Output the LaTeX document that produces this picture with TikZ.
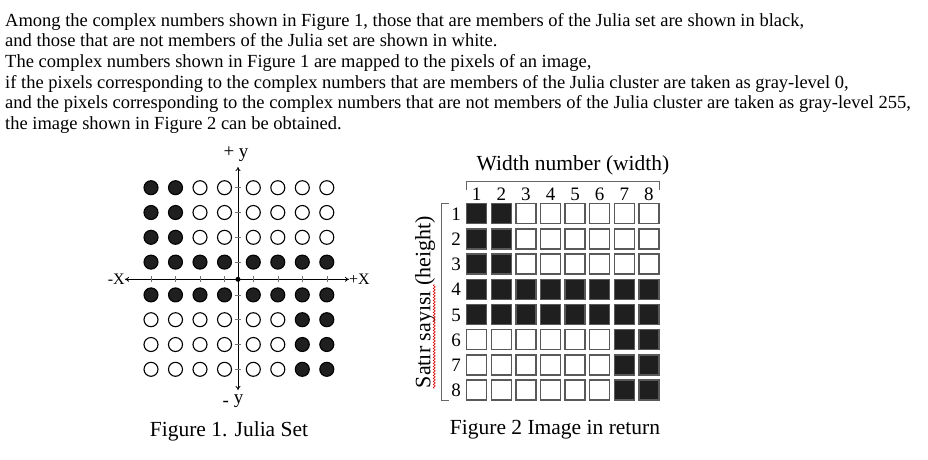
\documentclass[tikz,border=0pt]{standalone}
\usepackage{fontspec}
\setmainfont{Liberation Serif}
\usetikzlibrary{arrows.meta,positioning,calc,decorations.pathmorphing}

\begin{document}
\begin{tikzpicture}[
  x=1pt, y=-1pt,
  >={To[length=4pt,width=5pt]},
  every node/.style={inner sep=0pt, font=\fontsize{19}{22}\selectfont},
  dot/.style={circle, draw=black, line width=1.1pt, minimum size=14pt},
  pix/.style={draw=black!65, line width=1.3pt, minimum size=20pt},
  caption/.style={anchor=base, font=\fontsize{21.5}{24}\selectfont},
  axis/.style={line width=0.8pt, <->},
  tick/.style={black!55, line width=0.6pt},
  bracket/.style={black!60, line width=1pt},
  squiggle/.style={red!85!black, line width=0.6pt, decorate,
              decoration={snake, amplitude=1pt, segment length=3pt}},
]
\useasboundingbox (0,0) rectangle (928,459);

% Introductory text
\node[anchor=north west, align=left, font=\fontsize{18.5}{20.6}\selectfont] (intro) at (5,13)
  {Among the complex numbers shown in Figure 1, those that are members of the Julia set are shown in black,\\
   and those that are not members of the Julia set are shown in white.\\
   The complex numbers shown in Figure 1 are mapped to the pixels of an image,\\
   if the pixels corresponding to the complex numbers that are members of the Julia cluster are taken as gray-level 0,\\
   and the pixels corresponding to the complex numbers that are not members of the Julia cluster are taken as gray-level 255,\\
   the image shown in Figure 2 can be obtained.};

% Dots (Figure 1) and pixels (Figure 2)
\foreach \r in {1,...,8}
  \foreach \c in {1,...,8} {
    \pgfmathtruncatemacro\blk{((\r<4)&&(\c<3))||(\r==4)||(\r==5)||((\r>5)&&(\c>6))}
    \ifnum\blk=1 \def\cellfill{black!88}\else\def\cellfill{white}\fi
    \node[dot, fill=\cellfill] (d-\r-\c)
      at ({151+24.5*(\c-1)+4.3*(\c>4)}, {187.7+24.8*(\r-1)+8*(\r>4)}) {};
    \node[pix, fill=\cellfill] (p-\r-\c)
      at ({476.7+24.6*(\c-1)}, {213.7+25.2*(\r-1)}) {};
  }

% Axes
\coordinate (xl) at (125,279.3);
\coordinate (xr) at (349,279.3);
\coordinate (yt) at (238,167);
\coordinate (yb) at (238,390);
\draw[axis] (xl) -- (xr);
\draw[axis] (yb) -- (yt);
\node[circle, fill=black, minimum size=5pt] (o) at (238,279.3) {};
\foreach \c in {1,...,8}
  \draw[tick] ([yshift=3pt]d-1-\c |- o) -- ([yshift=-3pt]d-1-\c |- o);
\foreach \r in {1,...,8}
  \draw[tick] ([xshift=-3pt]o |- d-\r-1) -- ([xshift=3pt]o |- d-\r-1);

\node[anchor=east, font=\fontsize{16}{18}\selectfont] (xminus) at (xl) {-X};
\node[anchor=west, font=\fontsize{16}{18}\selectfont] (xplus) at (xr) {+X};
\node[anchor=base] (yplus) at (236,157) {+ y};
\node[anchor=base] (yminus) at (233,403) {\raisebox{-3pt}{-} y};

% Pixel grid labels
\foreach \c in {1,...,8}
  \node[anchor=base] (cn-\c) at (p-1-\c |- 0,200) {\c};
\foreach \r in {1,...,8}
  \node[anchor=base east] (rn-\r) at ($(p-\r-1.west)+(-5,6.5)$) {\r};

\coordinate (lb) at (441.7,0);
\draw[bracket] (p-1-1.west |- 0,190) -- (p-1-1.west |- 0,181.7)
  -- (p-1-8.east |- 0,181.7) -- (p-1-8.east |- 0,190);
\draw[bracket] ([xshift=7pt]lb |- p-1-1.north) -- (lb |- p-1-1.north)
  -- (lb |- p-8-1.south) -- ([xshift=7pt]lb |- p-8-1.south);

\node[font=\fontsize{21.5}{24}\selectfont] (wlabel) at (573,165) {Width number (width)};
\node[rotate=90, font=\fontsize{22}{24}\selectfont] (hlabel) at (425,302) {Satır sayısı (height)};
\draw[squiggle] ($(hlabel.base west)+(4,0)$) -- ++(0,-104);

% Captions
\node[caption] (cap1) at (229,436) {Figure 1. Julia Set};
\node[caption] (cap2) at (555,434) {Figure 2 Image in return};

\end{tikzpicture}
\end{document}
